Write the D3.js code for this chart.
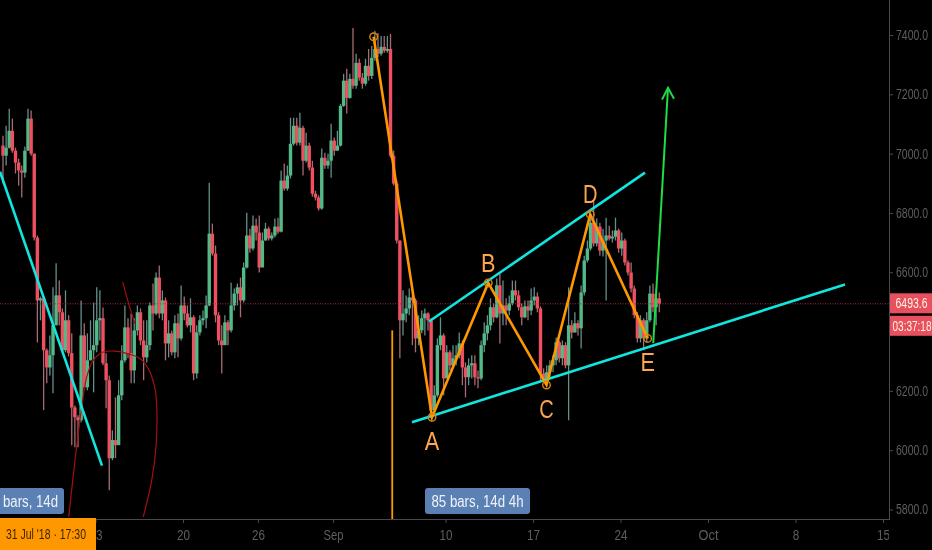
<!DOCTYPE html>
<html>
<head>
<meta charset="utf-8">
<script src="https://cdn.jsdelivr.net/npm/d3@7"></script>
<style>
  html, body { margin: 0; padding: 0; background: #000; overflow: hidden; }
  svg { display: block; filter: blur(0.45px); }
  text { font-family: "Liberation Sans", sans-serif; }
  .axis text { fill: #5e5e5e; font-size: 14px; }
  .axis path, .axis line { stroke: #4a4a4a; }
</style>
</head>
<body>
<div id="chart"></div>
<script>
// 6h candles, counted from the left edge
var firstOpen = 7027;
var closes = [6993,7020,7077,7010,6970,6943,6936,7010,7118,7000,
  6717,6505,6512,6337,6279,6320,6421,6522,6465,6337,
  6438,6327,6144,6111,6101,6387,6212,6303,6337,6354,
  6438,6445,6293,6236,5973,6034,6017,6185,6303,6414,
  6327,6269,6404,6465,6370,6313,6354,6488,6461,6582,
  6461,6505,6360,6394,6330,6428,6377,6488,6461,6421,
  6448,6259,6397,6438,6445,6488,6730,6663,6455,6370,
  6354,6431,6404,6488,6528,6549,6505,6616,6724,6680,
  6757,6734,6616,6707,6747,6714,6724,6754,6737,6909,
  6882,6926,7033,7094,7037,7087,6976,7027,6953,6865,
  6852,6815,6986,6960,6976,7044,7010,7027,7161,7246,
  7188,7252,7229,7306,7256,7236,7296,7262,7323,7353,
  7337,7360,7347,7353,6993,6899,6707,6438,6461,6478,
  6515,6505,6377,6404,6445,6461,6438,6135,6185,6354,
  6387,6242,6330,6286,6310,6320,6360,6279,6246,6286,
  6293,6246,6242,6354,6394,6421,6482,6448,6556,6461,
  6488,6471,6495,6539,6522,6482,6448,6485,6471,6505,
  6518,6478,6259,6236,6263,6286,6303,6364,6310,6354,
  6286,6421,6397,6428,6411,6532,6640,6680,6767,6697,
  6754,6673,6707,6724,6714,6720,6741,6680,6707,6633,
  6599,6545,6455,6377,6438,6377,6438,6528,6482,6512,6493.6];
var highs = [7060,7094,7151,7118,7020,6983,6960,7024,7151,7145,
  7000,6724,6518,6518,6343,6387,6549,6630,6572,6478,
  6539,6455,6394,6151,6118,6505,6428,6394,6438,6498,
  6549,6539,6481,6327,6252,6067,6178,6236,6354,6488,
  6445,6461,6445,6488,6478,6438,6438,6498,6562,6599,
  6623,6539,6515,6438,6404,6455,6461,6555,6518,6488,
  6512,6455,6421,6455,6471,6522,6902,6764,6690,6465,
  6421,6455,6438,6565,6545,6562,6582,6633,6801,6747,
  6791,6781,6791,6734,6767,6754,6734,6781,6784,6943,
  6967,6960,7121,7121,7121,7138,7094,7070,7037,6976,
  6875,6859,7017,7003,7000,7101,7054,7077,7168,7269,
  7286,7269,7424,7337,7320,7272,7320,7353,7363,7414,
  7407,7397,7397,7397,7404,7010,6909,6707,6539,6522,
  6545,6555,6512,6455,6471,6478,6465,6445,6219,6377,
  6448,6394,6354,6337,6354,6354,6397,6370,6296,6310,
  6320,6320,6269,6370,6431,6455,6512,6495,6579,6596,
  6572,6512,6522,6572,6572,6539,6495,6505,6505,6545,
  6549,6532,6485,6276,6286,6303,6320,6380,6370,6370,
  6364,6549,6438,6465,6438,6555,6656,6707,6791,6842,
  6781,6767,6747,6784,6757,6741,6784,6747,6734,6714,
  6640,6633,6555,6465,6455,6445,6465,6555,6562,6545,6532];
var lows = [6899,6960,7017,7003,6933,6892,6852,6919,7010,6993,
  6707,6363,6438,6135,6226,6252,6192,6421,6421,6330,
  6330,6316,6017,6010,6010,6094,6202,6202,6303,6195,
  6330,6370,6286,6141,5865,5966,5973,6017,6168,6296,
  6310,6226,6226,6387,6354,6236,6296,6337,6404,6455,
  6445,6438,6303,6313,6320,6310,6313,6370,6438,6414,
  6397,6236,6242,6387,6421,6411,6485,6656,6431,6354,
  6259,6370,6354,6397,6471,6488,6448,6498,6613,6666,
  6673,6707,6599,6633,6707,6707,6707,6717,6730,6734,
  6875,6875,6916,7027,7027,7027,6926,6970,6943,6855,
  6842,6808,6811,6949,6949,6919,6993,7010,7024,7158,
  7135,7185,7219,7219,7246,7219,7229,7246,7252,7313,
  7326,7330,7340,7340,6986,6892,6697,6310,6387,6431,
  6455,6354,6330,6354,6394,6387,6404,6108,6118,6178,
  6337,6185,6276,6269,6276,6286,6310,6219,6178,6219,
  6242,6219,6209,6236,6330,6370,6404,6431,6445,6360,
  6421,6421,6455,6488,6505,6471,6421,6445,6438,6455,
  6488,6465,6236,6229,6222,6242,6263,6286,6296,6286,
  6276,6101,6377,6397,6387,6343,6522,6633,6673,6687,
  6687,6656,6653,6505,6707,6700,6707,6666,6656,6623,
  6589,6532,6445,6363,6363,6337,6363,6431,6465,6421,6465];

var firstBarDay = -26.4;
var lastPrice = 6493.6;
var countdown = '03:37:18';

// tick labels, days counted from 1 Sep 2018
var dayTicks = [-19, -12, -6, 0, 9, 16, 23, 30, 37, 44];
var dayLabels = ['13', '20', '26', 'Sep', '10', '17', '24', 'Oct', '8', '15'];
// 6400 sits under the countdown tag in the picture
var priceTicks = [5800, 6000, 6200, 6600, 6800, 7000, 7200, 7400];

// drawings as [day, price]
var abcdePath = [[3.25, 7394], [7.92, 6111], [12.42, 6564], [17.08, 6220], [20.58, 6795], [25.17, 6377]];
var abcdeLetters = ['', 'A', 'B', 'C', 'D', 'E'];
var letterBelow = [0, 1, 0, 1, 0, 1];
var trendDown = [[-26.64, 6939], [-18.48, 5948]];
var trendUpper = [[7.68, 6434], [24.96, 6936]];
var trendLower = [[6.32, 6094], [40.96, 6559]];
var greenArrow = [[25.62, 6361], [26.8, 7222]];
var greenHead = [[26.32, 7182], [26.8, 7222], [27.28, 7185]];
var rangeLine = [[4.74, 6404], [4.74, 5760]];
var redCurve = [[-21.14, 5775], [-20.64, 5966], [-20.1, 6146], [-19.7, 6247], [-19.18, 6303], [-18.38, 6331],
  [-17.44, 6334], [-16.38, 6325], [-15.44, 6309], [-14.78, 6275], [-14.24, 6208], [-14.1, 6146],
  [-14.16, 6011], [-14.5, 5899], [-15.18, 5775]];
var redStroke = [[-16.82, 6567], [-16.38, 6499], [-15.84, 6426]];

var width = 932, height = 550;
var plotRight = 890, plotBottom = 519;

var svg = d3.select('#chart').append('svg')
  .attr('width', width)
  .attr('height', height);

svg.append('rect').attr('width', width).attr('height', height).attr('fill', '#000');

svg.append('clipPath').attr('id', 'plot')
  .append('rect').attr('width', plotRight).attr('height', plotBottom);
svg.append('clipPath').attr('id', 'xclip')
  .append('rect').attr('width', plotRight - 1).attr('height', height);

var x = d3.scaleLinear().domain([0, 30]).range([333, 708]);
var y = d3.scaleLinear().domain([5800, 7400]).range([509.5, 35]);

// squeezes a label to the narrow look of the picture
function squeeze(sel, len) {
  return sel.attr('textLength', len).attr('lengthAdjust', 'spacingAndGlyphs');
}

var plot = svg.append('g').attr('clip-path', 'url(#plot)');

// candles
var candles = plot.selectAll('.candle')
  .data(closes)
  .enter()
  .append('g')
  .attr('class', 'candle');

function openOf(i) { return i === 0 ? firstOpen : closes[i - 1]; }
function isUp(d, i) { return d >= openOf(i); }
function barX(i) { return x(firstBarDay + i / 4); }

candles.append('line')
  .attr('x1', function(d, i) { return barX(i); })
  .attr('x2', function(d, i) { return barX(i); })
  .attr('y1', function(d, i) { return y(highs[i]); })
  .attr('y2', function(d, i) { return y(lows[i]); })
  .attr('stroke-width', 1.3)
  .attr('stroke', function(d, i) { return isUp(d, i) ? '#648f8c' : '#a86c72'; });

candles.append('rect')
  .attr('x', function(d, i) { return barX(i) - 1.7; })
  .attr('width', 3.4)
  .attr('y', function(d, i) { return y(Math.max(d, openOf(i))); })
  .attr('height', function(d, i) { return Math.max(1, Math.abs(y(d) - y(openOf(i)))); })
  .attr('fill', function(d, i) { return isUp(d, i) ? '#53b987' : '#f04f60'; });

// last price line
plot.append('line')
  .attr('x1', 0).attr('x2', plotRight)
  .attr('y1', y(lastPrice)).attr('y2', y(lastPrice))
  .attr('stroke', '#b03040')
  .attr('stroke-dasharray', '1 1.5');

var line = d3.line()
  .x(function(d) { return x(d[0]); })
  .y(function(d) { return y(d[1]); });

// thin dark red pen strokes
plot.append('path').attr('d', line.curve(d3.curveCatmullRom)(redCurve))
  .attr('fill', 'none').attr('stroke', '#a50f0f').attr('stroke-width', 1.2);
plot.append('path').attr('d', line(redStroke))
  .attr('fill', 'none').attr('stroke', '#a50f0f').attr('stroke-width', 1.2);
line.curve(d3.curveLinear);

// trend lines
[trendDown, trendUpper, trendLower].forEach(function(t) {
  plot.append('path').attr('d', line(t))
    .attr('fill', 'none').attr('stroke', '#10e6e0').attr('stroke-width', 2.6);
});

plot.append('path').attr('d', line(rangeLine))
  .attr('fill', 'none').attr('stroke', '#ff9800').attr('stroke-width', 1.8);

// ABCDE pattern
plot.append('path').attr('d', line(abcdePath))
  .attr('fill', 'none').attr('stroke', '#ff9800').attr('stroke-width', 2.6);

plot.selectAll('.pivot')
  .data(abcdePath)
  .enter()
  .append('circle')
  .attr('class', 'pivot')
  .attr('cx', function(d) { return x(d[0]); })
  .attr('cy', function(d) { return y(d[1]); })
  .attr('r', 3.8)
  .attr('fill', 'none')
  .attr('stroke', '#d98410')
  .attr('stroke-width', 1.4);

plot.selectAll('.letter')
  .data(abcdePath)
  .enter()
  .append('text')
  .attr('class', 'letter')
  .attr('x', function(d) { return x(d[0]); })
  .attr('y', function(d, i) { return y(d[1]) + (letterBelow[i] ? 33 : -11); })
  .attr('text-anchor', 'middle')
  .attr('font-size', 25)
  .attr('fill', '#ffa64d')
  .attr('textLength', function(d, i) { return abcdeLetters[i] ? 14.5 : null; })
  .attr('lengthAdjust', 'spacingAndGlyphs')
  .text(function(d, i) { return abcdeLetters[i]; });

// green arrow
plot.append('path').attr('d', line(greenArrow))
  .attr('fill', 'none').attr('stroke', '#1fdc48').attr('stroke-width', 2);
plot.append('path').attr('d', line(greenHead))
  .attr('fill', 'none').attr('stroke', '#1fdc48').attr('stroke-width', 2);

// axes
var xAxis = d3.axisBottom(x)
  .tickValues(dayTicks)
  .tickFormat(function(d, i) { return dayLabels[i]; })
  .tickSize(4)
  .tickPadding(7);
var xg = svg.append('g').attr('class', 'axis')
  .attr('clip-path', 'url(#xclip)')
  .attr('transform', 'translate(0,' + plotBottom + ')')
  .call(xAxis);
xg.select('.domain').remove();
xg.selectAll('text')
  .attr('textLength', function(d, i) {
    var s = dayLabels[i];
    return s.length === 3 ? 20 : s.length * 6.5;
  })
  .attr('lengthAdjust', 'spacingAndGlyphs');
svg.append('line').attr('x1', 0).attr('x2', plotRight)
  .attr('y1', plotBottom + 0.5).attr('y2', plotBottom + 0.5).attr('stroke', '#4a4a4a');

var yAxis = d3.axisRight(y)
  .tickValues(priceTicks)
  .tickFormat(d3.format('.1f'))
  .tickSize(3)
  .tickPadding(3);
var yg = svg.append('g').attr('class', 'axis')
  .attr('transform', 'translate(' + plotRight + ',0)')
  .call(yAxis);
yg.select('.domain').remove();
squeeze(yg.selectAll('text'), 32);
svg.append('line').attr('x1', plotRight - 0.5).attr('x2', plotRight - 0.5)
  .attr('y1', 0).attr('y2', plotBottom).attr('stroke', '#4a4a4a');

// price and countdown tags
svg.append('rect').attr('x', plotRight).attr('y', y(lastPrice) - 10.5)
  .attr('width', 42).attr('height', 20).attr('fill', '#e84f5f');
squeeze(svg.append('text').attr('x', 895.5).attr('y', y(lastPrice) + 4.5)
  .attr('font-size', 14).attr('fill', '#fff6e0').text(d3.format('.1f')(lastPrice)), 32);
svg.append('rect').attr('x', plotRight).attr('y', y(lastPrice) + 12)
  .attr('width', 42).attr('height', 20).attr('fill', '#e84f5f');
squeeze(svg.append('text').attr('x', 892.5).attr('y', y(lastPrice) + 27)
  .attr('font-size', 14).attr('fill', '#fff6e0').text(countdown), 39);

// measure labels
svg.append('rect').attr('x', 425).attr('y', 488).attr('width', 105).attr('height', 26)
  .attr('rx', 3).attr('fill', '#5b80b4');
squeeze(svg.append('text').attr('x', 431.5).attr('y', 506.5)
  .attr('font-size', 16).attr('fill', '#eef3fa').text('85 bars, 14d 4h'), 92);
svg.append('rect').attr('x', -10).attr('y', 488).attr('width', 74).attr('height', 26)
  .attr('rx', 3).attr('fill', '#5b80b4');
squeeze(svg.append('text').attr('x', 3).attr('y', 506.5)
  .attr('font-size', 16).attr('fill', '#eef3fa').text('bars, 14d'), 55);

// crosshair date tag
svg.append('rect').attr('x', 0).attr('y', 518).attr('width', 96).attr('height', 32).attr('fill', '#ff9800');
squeeze(svg.append('text').attr('x', 6).attr('y', 538.5)
  .attr('font-size', 15).attr('fill', '#3a2400').text("31 Jul '18 \u00b7 17:30"), 80);
</script>
</body>
</html>
